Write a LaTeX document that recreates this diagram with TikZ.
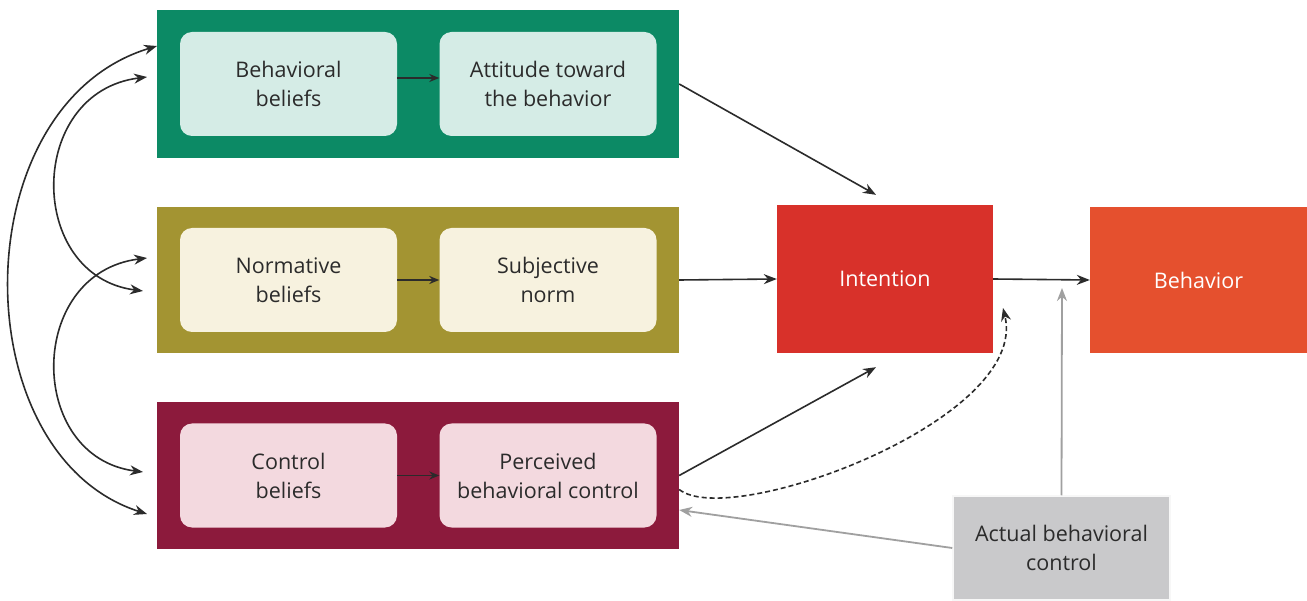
\documentclass[tikz,border=0pt]{standalone}
\usepackage{fontspec}
\setmainfont{Open Sans}
\usetikzlibrary{arrows.meta}
\definecolor{cgreen}{HTML}{0C8A65}
\definecolor{cgreenin}{HTML}{D5ECE6}
\definecolor{colive}{HTML}{A39432}
\definecolor{colivein}{HTML}{F7F2DF}
\definecolor{cmaroon}{HTML}{8C1A3C}
\definecolor{cmaroonin}{HTML}{F3D9DF}
\definecolor{cintent}{HTML}{D8312A}
\definecolor{cbehav}{HTML}{E5502E}
\definecolor{cgraybox}{HTML}{C9C9CB}
\definecolor{cgrayline}{HTML}{A0A0A0}
\definecolor{ctext}{HTML}{2B2B2B}
\begin{document}
\begin{tikzpicture}[x=1pt,y=-1pt,
  outerbox/.style={draw=none, minimum width=522pt, inner sep=0pt},
  innerbox/.style={draw=none, rounded corners=12pt, minimum width=217pt, minimum height=104pt,
     align=center, text=ctext, font=\fontsize{21.5}{29}\selectfont, inner sep=0pt},
  bigbox/.style={draw=none, minimum width=217pt, inner sep=0pt, align=center,
     font=\fontsize{21.5}{29}\selectfont},
  arr/.style={line width=1.6pt, draw=ctext, -{Stealth[length=13pt,width=10pt]}},
  smallarr/.style={line width=1.6pt, draw=ctext, -{Stealth[length=10pt,width=8pt]}},
  biarr/.style={line width=1.6pt, draw=ctext, {Stealth[length=13pt,width=10pt]}-{Stealth[length=13pt,width=10pt]}},
  grayarr/.style={line width=1.8pt, draw=cgrayline, -{Stealth[length=13pt,width=10pt]}},
  dasharr/.style={line width=1.6pt, draw=ctext, dash pattern=on 5pt off 3pt, -{Stealth[length=13pt,width=10pt]}}
]
\useasboundingbox (0,0) rectangle (1307,601);
\fill[white] (0,0) rectangle (1307,601);

% outer boxes
\node[outerbox, fill=cgreen, minimum height=148pt] (green) at (418,84) {};
\node[outerbox, fill=colive, minimum height=146pt] (olive) at (418,280) {};
\node[outerbox, fill=cmaroon, minimum height=147pt] (maroon) at (418,475.5) {};

% inner boxes
\node[innerbox, fill=cgreenin] (bb) at (288.5,84) {Behavioral\\beliefs};
\node[innerbox, fill=cgreenin] (att) at (548,84) {Attitude toward\\the behavior};
\node[innerbox, fill=colivein] (nb) at (288.5,280) {Normative\\beliefs};
\node[innerbox, fill=colivein] (sn) at (548,280) {Subjective\\norm};
\node[innerbox, fill=cmaroonin] (cb) at (288.5,475.5) {Control\\beliefs};
\node[innerbox, fill=cmaroonin] (pbc) at (548,475.5) {Perceived\\behavioral control};

% right boxes
\node[bigbox, fill=cintent, minimum height=148pt, text=white, minimum width=216pt] (intention) at (885,279) {Intention};
\node[bigbox, fill=cbehav, minimum height=146pt, text=white] (behavior) at (1198.5,280) {Behavior};
\node[bigbox, fill=cgraybox, draw=white!85!cgraybox, line width=1.5pt, minimum height=104pt, text=ctext] (actual) at (1061.5,548) {Actual behavioral\\control};

% inner arrows
\draw[smallarr] ([yshift=6pt]bb.east) -- ([yshift=6pt]att.west);
\draw[smallarr] (nb.east) -- (sn.west);
\draw[smallarr] (cb.east) -- (pbc.west);

% to intention
\draw[arr] (green.east) -- ([xshift=-9pt,yshift=10pt]intention.north);
\draw[arr] (olive.east) -- (intention.west);
\draw[arr] (maroon.east) -- ([xshift=-9pt,yshift=-14pt]intention.south);
\draw[arr] (intention.east) -- (behavior.west);

% dashed
\coordinate (dtip) at (1003,308);
\draw[dasharr] ([yshift=-14pt]maroon.east) .. controls (730,530) and (1030,420) .. (dtip);

% gray arrows
\coordinate (gtip) at (1062,288);
\draw[grayarr] (actual.north) -- (gtip);
\draw[grayarr] (actual.west) -- ([yshift=-34.5pt]maroon.east);

% left arcs
\coordinate (o1) at (157,46);
\coordinate (o2) at (147,514);
\coordinate (a1) at (147,77);
\coordinate (a2) at (143,291);
\coordinate (b1) at (147,258);
\coordinate (b2) at (143,472);
\draw[biarr] (o1) .. controls (-38,105) and (-38,455) .. (o2);
\draw[biarr] (a1) .. controls (26,92) and (26,276) .. (a2);
\draw[biarr] (b1) .. controls (26,273) and (26,457) .. (b2);
\end{tikzpicture}
\end{document}
